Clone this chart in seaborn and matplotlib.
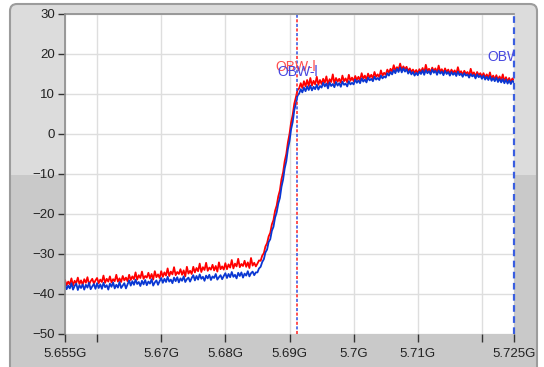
import numpy as np
import seaborn as sns
from matplotlib import pyplot as plt
from matplotlib.patches import FancyBboxPatch, Rectangle, PathPatch
from matplotlib.path import Path
from matplotlib.transforms import IdentityTransform

W, H = 544, 367

# spectrum traces, one value every 0.25 MHz from 5.655 GHz (rows of 5 MHz)
freq_start = 5.655
freq_step = 0.00025
red_db = [
    -36.5, -37.8, -36.9, -37.6, -36.1, -37.9, -36.7, -37.3, -35.9, -37.5, -36.6, -37.7, -36.3, -37.2, -35.8, -37.6, -36.8, -36.2, -37.4, -36.6,
    -36.0, -37.3, -36.4, -37.0, -35.4, -37.2, -36.2, -36.9, -35.6, -37.1, -36.3, -36.8, -35.2, -36.9, -36.1, -37.0, -35.5, -36.6, -35.9, -36.8,
    -35.2, -36.5, -35.6, -36.3, -34.6, -36.4, -35.3, -36.0, -34.4, -36.2, -35.5, -35.9, -34.7, -36.1, -35.0, -36.4, -34.3, -35.8, -35.1, -36.0,
    -34.3, -35.7, -34.6, -35.4, -33.6, -35.5, -34.4, -35.1, -33.3, -35.3, -34.5, -35.0, -33.8, -35.2, -34.1, -35.6, -33.2, -34.9, -34.2, -35.0,
    -33.2, -34.6, -33.5, -34.3, -32.4, -34.5, -33.3, -34.0, -32.2, -34.2, -33.4, -33.9, -32.7, -34.1, -33.0, -34.4, -32.1, -33.8, -33.1, -33.9,
    -32.3, -33.8, -32.6, -33.4, -31.5, -33.6, -32.4, -33.1, -31.2, -33.3, -32.5, -33.0, -31.7, -33.2, -32.1, -33.5, -31.0, -32.9, -32.2, -33.1,
    -32.4, -31.6, -31.7, -30.4, -29.8, -28.1, -27.3, -25.6, -24.7, -22.6, -21.5, -19.2, -17.9, -15.6, -14.1, -11.3, -9.6, -6.8, -5.0, -2.1,
    0.0, 2.9, 4.8, 7.6, 9.2, 11.0, 11.4, 12.7, 11.5, 13.2, 11.9, 13.5, 12.0, 14.0, 12.1, 13.3, 12.4, 14.3, 12.3, 13.5,
    12.5, 13.8, 12.8, 14.4, 12.4, 13.7, 13.0, 14.9, 12.6, 14.0, 13.1, 13.8, 12.8, 14.6, 13.2, 13.9, 12.9, 14.8, 13.3, 14.1,
    13.2, 14.5, 13.5, 14.3, 13.4, 15.2, 13.8, 14.6, 13.6, 15.1, 14.1, 14.8, 13.9, 15.5, 14.3, 14.9, 14.2, 15.9, 14.6, 15.3,
    14.8, 16.1, 15.3, 16.3, 15.6, 17.2, 15.9, 16.7, 16.1, 17.6, 16.0, 16.9, 16.2, 16.8, 15.7, 16.4, 15.5, 16.1, 15.3, 16.0,
    15.2, 16.2, 15.5, 16.5, 15.3, 17.3, 15.7, 16.3, 15.4, 16.6, 15.8, 16.4, 15.3, 17.1, 15.6, 16.2, 15.2, 16.4, 15.5, 16.1,
    15.1, 16.1, 15.3, 15.9, 15.0, 16.7, 15.2, 15.7, 14.8, 15.8, 15.1, 15.5, 14.6, 16.3, 14.9, 15.4, 14.4, 15.5, 14.7, 15.2,
    14.3, 15.2, 14.1, 14.9, 14.0, 15.4, 13.8, 14.6, 13.7, 14.7, 13.5, 14.4, 13.4, 14.9, 13.2, 14.2, 13.1, 14.0, 13.0, 13.9,
    13.5,
]
blue_db = [
    -37.5, -38.8, -37.9, -38.6, -37.3, -38.9, -38.0, -37.4, -39.0, -37.8, -38.5, -37.6, -38.9, -37.7, -38.4, -37.2, -38.8, -38.1, -37.5, -38.7,
    -37.3, -38.5, -37.6, -38.7, -37.2, -38.3, -37.8, -38.9, -37.4, -38.2, -37.1, -38.6, -37.7, -38.4, -37.0, -38.5, -37.9, -37.3, -38.6, -37.6,
    -36.6, -37.9, -36.8, -37.7, -36.4, -37.5, -37.0, -38.0, -36.7, -37.6, -36.5, -37.8, -36.9, -37.4, -36.3, -37.9, -37.1, -36.6, -37.7, -36.8,
    -36.0, -37.2, -36.2, -37.0, -35.7, -36.9, -36.4, -37.3, -35.9, -36.8, -35.8, -37.1, -36.1, -36.7, -35.6, -37.0, -36.3, -35.9, -36.9, -36.0,
    -35.3, -36.6, -35.5, -36.4, -35.1, -36.2, -35.7, -36.7, -35.4, -36.1, -35.2, -36.5, -35.6, -36.0, -35.0, -36.4, -35.8, -35.3, -36.3, -35.5,
    -34.8, -36.0, -35.0, -35.8, -34.5, -35.7, -35.2, -36.1, -34.7, -35.5, -34.6, -35.9, -34.9, -35.4, -34.3, -35.6, -34.8, -34.4, -35.3, -34.6,
    -34.6, -33.6, -33.2, -32.0, -31.3, -29.6, -28.9, -27.0, -26.3, -24.2, -23.2, -20.9, -19.6, -17.4, -16.0, -13.2, -11.4, -8.6, -6.8, -3.8,
    -1.8, 1.2, 3.0, 6.0, 7.6, 9.6, 10.1, 11.2, 10.4, 11.6, 10.7, 11.9, 11.0, 12.1, 10.9, 11.8, 11.2, 12.3, 11.1, 12.0,
    11.6, 12.8, 11.9, 12.6, 11.4, 12.9, 12.0, 12.5, 11.7, 13.0, 12.1, 12.7, 11.8, 13.1, 12.3, 12.6, 11.9, 13.2, 12.4, 12.8,
    12.4, 13.6, 12.8, 13.4, 12.7, 13.9, 13.1, 13.6, 12.9, 14.1, 13.4, 13.8, 13.2, 14.3, 13.6, 14.0, 13.5, 14.6, 13.9, 14.4,
    14.1, 15.2, 14.6, 15.5, 14.9, 16.0, 15.2, 16.3, 15.5, 16.6, 15.4, 16.4, 15.6, 16.2, 15.1, 15.8, 14.9, 15.5, 14.6, 15.3,
    14.7, 15.6, 15.0, 15.9, 14.8, 16.0, 15.2, 15.7, 14.9, 16.1, 15.3, 15.8, 14.8, 15.9, 15.1, 15.6, 14.7, 15.8, 15.0, 15.5,
    14.6, 15.5, 14.8, 15.3, 14.5, 15.6, 14.7, 15.1, 14.3, 15.2, 14.6, 14.9, 14.1, 15.0, 14.4, 14.8, 13.9, 14.9, 14.2, 14.6,
    13.8, 14.6, 13.6, 14.3, 13.5, 14.4, 13.3, 14.0, 13.2, 14.1, 13.0, 13.8, 12.9, 13.7, 12.7, 13.6, 12.6, 13.4, 12.5, 13.3,
    12.9,
]
freq = freq_start + freq_step * np.arange(len(blue_db))

x_ticks = [5.655, 5.66, 5.67, 5.68, 5.69, 5.70, 5.71, 5.72, 5.725]
x_labels = ['5.655G', '', '5.67G', '5.68G', '5.69G', '5.7G', '5.71G', '', '5.725G']
y_ticks = [30, 20, 10, 0, -10, -20, -30, -40, -50]
obw_low = 5.6912
obw_high = 5.725

sns.set_style('white')
plt.rcParams['font.family'] = ['Liberation Sans', 'DejaVu Sans']

fig = plt.figure(figsize=(W / 100, H / 100), dpi=100)
fig.patch.set_facecolor('white')

# panel frame in pixels (y up), light on top and darker lower half
left, right, top, r = 10, 537, H - 4, 7
fill = FancyBboxPatch((left, -60), right - left, top + 60, boxstyle='round,pad=0,rounding_size=7',
                      transform=IdentityTransform(), fc='#dcdcdc', ec='none', zorder=-3)
fig.patches.append(fill)
lower = Rectangle((left, -5), right - left, H - 175 + 5, transform=IdentityTransform(),
                  fc='#c9c9c9', ec='none', zorder=-2)
fig.patches.append(lower)
border = Path([(left, -5), (left, top - r), (left, top), (left + r, top), (right - r, top),
               (right, top), (right, top - r), (right, -5)],
              [Path.MOVETO, Path.LINETO, Path.CURVE3, Path.CURVE3, Path.LINETO,
               Path.CURVE3, Path.CURVE3, Path.LINETO])
fig.patches.append(PathPatch(border, transform=IdentityTransform(), fill=False,
                             ec='#9c9c9c', lw=1.5, zorder=-1))

ax = fig.add_axes([65 / W, (H - 334) / H, (514 - 65) / W, 320 / H])
ax.set_facecolor('white')

sns.lineplot(x=freq, y=red_db, color='#ff0000', lw=1.3, ax=ax)
sns.lineplot(x=freq, y=blue_db, color='#0a37d2', lw=1.3, ax=ax)

# occupied bandwidth markers
ax.axvline(obw_low, color='#ff2020', ls=(0, (2, 4)), lw=1.1)
ax.axvline(obw_low, color='#3050e0', ls=(3, (2, 4)), lw=1.1)
ax.axvline(obw_high, color='#3a5ee0', ls=(0, (3, 2)), lw=1.6, clip_on=False)
ax.text(obw_low - 0.0003, 16.75, 'OBW-l', color='#ff5050', ha='center', va='center', fontsize=10, clip_on=True)
ax.text(obw_low, 15.5, 'OBW-l', color='#4848e0', ha='center', va='center', fontsize=10, clip_on=True)
ax.text(obw_high - 0.0006, 19.25, 'OBW-u', color='#4848e0', ha='center', va='center', fontsize=10, clip_on=True)

ax.set_xlim(5.655, 5.725)
ax.set_ylim(-50, 30)
ax.set_xticks(x_ticks)
ax.set_xticklabels(x_labels)
ax.set_yticks(y_ticks)
ax.grid(True, color='#dedede', lw=1)
for s in ['right', 'bottom']:
    ax.spines[s].set_visible(False)
for s in ['left', 'top']:
    ax.spines[s].set_color('#8c8c8c')
    ax.spines[s].set_linewidth(1.2)
ax.tick_params(direction='out', length=5, width=1, color='#333333', labelsize=9.5,
               labelcolor='#222222', pad=2, left=True, bottom=True)
ax.tick_params(axis='x', length=6, pad=4)

fig.savefig('out.png', dpi=100)
